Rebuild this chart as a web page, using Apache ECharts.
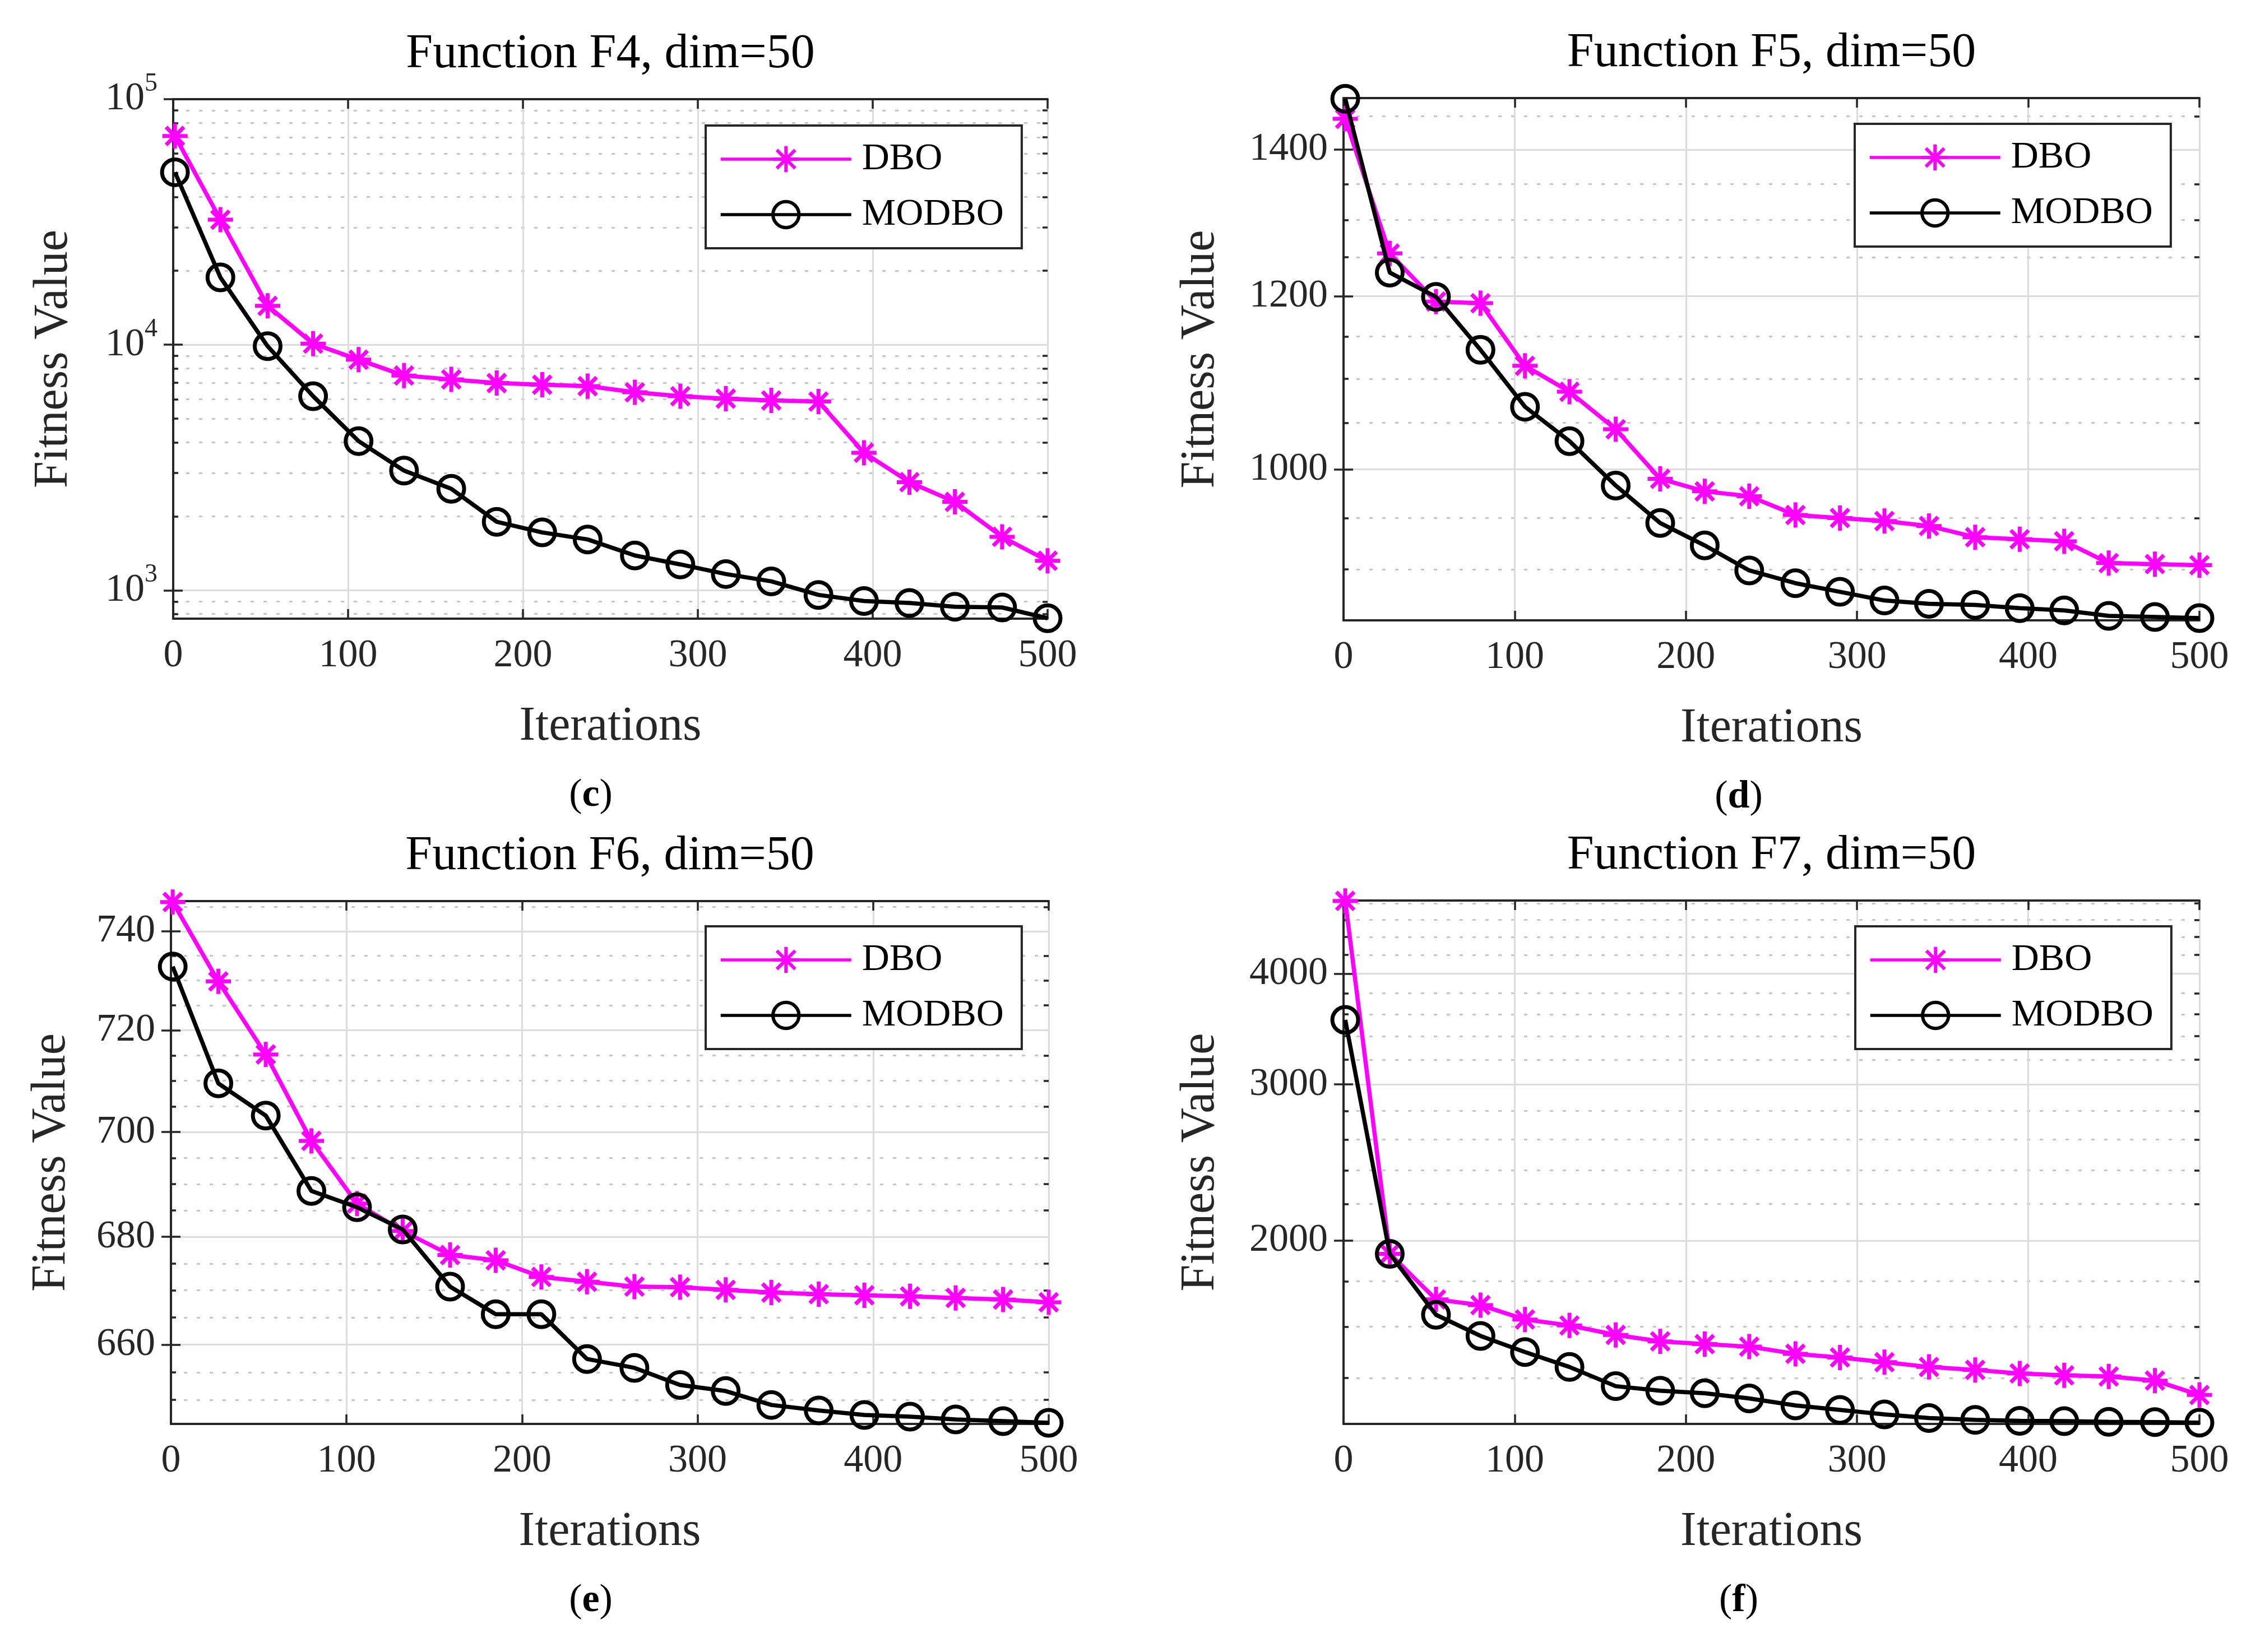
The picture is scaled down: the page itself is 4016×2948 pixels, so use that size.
<!DOCTYPE html>
<html>
<head>
<meta charset="utf-8">
<script src="https://cdn.jsdelivr.net/npm/echarts@6/dist/echarts.min.js"></script>
<style>
html,body{margin:0;padding:0;background:#ffffff;}
#chart{width:4016px;height:2948px;}
</style>
</head>
<body>
<div id="chart"></div>
<script>
// ---------------- data ----------------
const iterations = [1, 27, 54, 80, 106, 132, 159, 185, 211, 237, 264, 290, 316, 342, 369, 395, 421, 447, 474, 500];
const xTickValues = [0, 100, 200, 300, 400, 500];
const seriesNames = ['DBO', 'MODBO'];

const titles = ['Function F4, dim=50', 'Function F5, dim=50', 'Function F6, dim=50', 'Function F7, dim=50'];
const captionLetters = ['c', 'd', 'e', 'f'];

// Function F4
const f4DBO = [70800, 32300, 14400, 10100, 8690, 7490, 7220, 6980, 6870, 6780, 6400, 6170, 6030, 5930, 5870, 3630, 2755, 2290, 1650, 1318];
const f4MODBO = [50400, 18800, 9860, 6170, 4050, 3070, 2590, 1900, 1720, 1610, 1385, 1274, 1164, 1087, 957, 904, 887, 857, 851, 769];
const f4Range = [766, 100000];
const f4MajorTicks = [1000, 10000, 100000];
const f4MinorTicks = [800, 900, 2000, 3000, 4000, 5000, 6000, 7000, 8000, 9000, 20000, 30000, 40000, 50000, 60000, 70000, 80000, 90000];

// Function F5
const f5DBO = [1446, 1255, 1193, 1191, 1115, 1085, 1043, 990, 977, 972, 953, 950, 947, 942, 931, 929, 927, 906, 905, 904];
const f5MODBO = [1477, 1230, 1199, 1134, 1068, 1030, 983, 945, 923, 899, 887, 879, 871, 868, 867, 864, 862, 857, 856, 855];
const f5Range = [853, 1478];
const f5MajorTicks = [1000, 1200, 1400];
const f5MinorTicks = [900, 950, 1050, 1100, 1150, 1250, 1300, 1350, 1450];

// Function F6
const f6DBO = [746.0, 729.8, 715.2, 698.3, 686.3, 681.1, 676.6, 675.6, 672.5, 671.6, 670.7, 670.6, 670.1, 669.6, 669.3, 669.1, 668.9, 668.6, 668.3, 667.8];
const f6MODBO = [732.8, 709.5, 703.2, 688.7, 685.6, 681.4, 670.7, 665.6, 665.6, 657.4, 655.8, 652.7, 651.6, 649.1, 648.1, 647.3, 647.0, 646.5, 646.2, 645.9];
const f6Range = [645.7, 746.2];
const f6MajorTicks = [660, 680, 700, 720, 740];
const f6MinorTicks = [650, 655, 665, 670, 675, 685, 690, 695, 705, 710, 715, 725, 730, 735, 745];

// Function F7
const f7DBO = [4830, 1933, 1717, 1692, 1630, 1605, 1566, 1540, 1529, 1519, 1491, 1477, 1459, 1441, 1430, 1417, 1410, 1406, 1391, 1340];
const f7MODBO = [3547, 1933, 1650, 1562, 1498, 1441, 1371, 1355, 1346, 1328, 1304, 1289, 1274, 1262, 1256, 1253, 1252, 1250, 1249, 1247];
const f7Range = [1243, 4835];
const f7MajorTicks = [2000, 3000, 4000];
const f7MinorTicks = [1400, 1600, 1800, 2200, 2400, 2600, 2800, 3200, 3400, 3600, 3800, 4200, 4400, 4600, 4800];

// ---------------- layout / style ----------------
const FONT = 'Liberation Serif';
const AX = '#262626';
const MAGENTA = '#ff00ff';
const ASTERISK = 'path://M22.5,0L22.5,45M0,22.5L45,22.5M6.6,6.6L38.4,38.4M6.6,38.4L38.4,6.6';

const panels = [
  {title: titles[0], cap: captionLetters[0], dbo: f4DBO, modbo: f4MODBO, range: f4Range, major: f4MajorTicks, minor: f4MinorTicks, pow: true,
   grid: {left: 309, top: 177, width: 1560, height: 927}, legend: {left: 1259, top: 224}, yNameX: 96, capX: 1054},
  {title: titles[1], cap: captionLetters[1], dbo: f5DBO, modbo: f5MODBO, range: f5Range, major: f5MajorTicks, minor: f5MinorTicks, pow: false,
   grid: {left: 2397, top: 175, width: 1527, height: 932}, legend: {left: 3309, top: 221}, yNameX: 2142, capX: 3102},
  {title: titles[2], cap: captionLetters[2], dbo: f6DBO, modbo: f6MODBO, range: f6Range, major: f6MajorTicks, minor: f6MinorTicks, pow: false,
   grid: {left: 305, top: 1608, width: 1566, height: 933}, legend: {left: 1259, top: 1653}, yNameX: 92, capX: 1054},
  {title: titles[3], cap: captionLetters[3], dbo: f7DBO, modbo: f7MODBO, range: f7Range, major: f7MajorTicks, minor: f7MinorTicks, pow: false,
   grid: {left: 2397, top: 1607, width: 1527, height: 934}, legend: {left: 3310, top: 1653}, yNameX: 2142, capX: 3102}
];

const option = {
  animation: false,
  backgroundColor: '#ffffff',
  grid: [], xAxis: [], yAxis: [], series: [], legend: [], graphic: []
};

const axisLineStyle = {color: AX, width: 4};
const tickLineStyle = {color: AX, width: 3.5};
const majorGrid = {show: true, lineStyle: {color: '#dcdcdc', width: 3, type: 'solid'}};
const minorGrid = {show: true, lineStyle: {color: '#c6c6c6', width: 3, type: [6, 17]}};

panels.forEach((p, i) => {
  const g = p.grid;
  option.grid.push({left: g.left, top: g.top, width: g.width, height: g.height, containLabel: false});

  const xBase = option.xAxis.length;
  const xCommon = {gridIndex: i, type: 'value', min: xTickValues[0], max: xTickValues[xTickValues.length - 1], interval: xTickValues[1] - xTickValues[0]};
  option.xAxis.push(Object.assign({}, xCommon, {
    position: 'bottom',
    axisLine: {show: true, onZero: false, lineStyle: axisLineStyle},
    axisTick: {show: true, inside: true, length: 17, lineStyle: tickLineStyle},
    axisLabel: {show: true, margin: 32, fontFamily: FONT, fontSize: 70, color: AX, showMinLabel: true, showMaxLabel: true},
    splitLine: majorGrid
  }));
  option.xAxis.push(Object.assign({}, xCommon, {
    position: 'top',
    axisLine: {show: true, onZero: false, lineStyle: axisLineStyle},
    axisTick: {show: true, inside: true, length: 17, lineStyle: tickLineStyle},
    axisLabel: {show: false},
    splitLine: {show: false}
  }));

  const yBase = option.yAxis.length;
  const yCommon = {gridIndex: i, type: 'log', logBase: 10, min: p.range[0], max: p.range[1]};
  const labelCfg = {
    show: true, customValues: p.major, margin: 28, fontFamily: FONT, fontSize: 70, color: AX
  };
  if (p.pow) {
    labelCfg.formatter = v => '10{s|' + Math.round(Math.log10(v)) + '}';
    labelCfg.lineHeight = 100;
    labelCfg.rich = {s: {fontSize: 46, fontFamily: FONT, color: AX, verticalAlign: 'top', lineHeight: 100}};
  } else {
    labelCfg.formatter = v => String(Math.round(v));
  }
  option.yAxis.push(Object.assign({}, yCommon, {
    position: 'left',
    axisLine: {show: true, lineStyle: axisLineStyle},
    axisTick: {show: true, inside: true, length: 17, customValues: p.major, lineStyle: tickLineStyle},
    axisLabel: labelCfg,
    splitLine: majorGrid
  }));
  option.yAxis.push(Object.assign({}, yCommon, {
    position: 'right',
    axisLine: {show: true, lineStyle: axisLineStyle},
    axisTick: {show: true, inside: true, length: 17, customValues: p.major, lineStyle: tickLineStyle},
    axisLabel: {show: false},
    splitLine: {show: false}
  }));
  option.yAxis.push(Object.assign({}, yCommon, {
    position: 'left',
    axisLine: {show: false},
    axisTick: {show: true, inside: true, length: 9, customValues: p.minor, lineStyle: tickLineStyle},
    axisLabel: {show: false},
    splitLine: minorGrid
  }));
  option.yAxis.push(Object.assign({}, yCommon, {
    position: 'right',
    axisLine: {show: false},
    axisTick: {show: true, inside: true, length: 9, customValues: p.minor, lineStyle: tickLineStyle},
    axisLabel: {show: false},
    splitLine: {show: false}
  }));

  option.series.push({
    type: 'line', name: seriesNames[0], xAxisIndex: xBase, yAxisIndex: yBase,
    data: iterations.map((x, k) => [x, p.dbo[k]]),
    symbol: ASTERISK, symbolSize: 45, clip: false, z: 3,
    lineStyle: {color: MAGENTA, width: 7.5},
    itemStyle: {color: MAGENTA, borderColor: MAGENTA, borderWidth: 7},
    emphasis: {disabled: true}
  });
  option.series.push({
    type: 'line', name: seriesNames[1], xAxisIndex: xBase, yAxisIndex: yBase,
    data: iterations.map((x, k) => [x, p.modbo[k]]),
    symbol: 'circle', symbolSize: 46, clip: false, z: 4,
    lineStyle: {color: '#000000', width: 7.5},
    itemStyle: {color: 'rgba(0,0,0,0)', borderColor: '#000000', borderWidth: 7},
    emphasis: {disabled: true}
  });

  option.legend.push({
    left: p.legend.left, top: p.legend.top, orient: 'vertical', align: 'left',
    data: seriesNames, selectedMode: false,
    itemWidth: 233, itemHeight: 58, itemGap: 29,
    padding: [25, 32, 25, 24],
    backgroundColor: '#ffffff', borderColor: AX, borderWidth: 4,
    lineStyle: {width: 5.5},
    itemStyle: {borderWidth: 6},
    textStyle: {fontFamily: FONT, fontSize: 68, color: '#000000', lineHeight: 70, padding: [0, 0, 0, 14]}
  });

  const cx = g.left + g.width / 2;
  const bottom = g.top + g.height;
  option.graphic.push({
    type: 'text', x: cx, y: g.top - 80,
    style: {text: p.title, font: '86px "' + FONT + '"', fill: '#000000', align: 'center', verticalAlign: 'middle', textAlign: 'center', textVerticalAlign: 'middle'}
  });
  option.graphic.push({
    type: 'text', x: cx, y: bottom + 193,
    style: {text: 'Iterations', font: '86px "' + FONT + '"', fill: AX, align: 'center', verticalAlign: 'middle', textAlign: 'center', textVerticalAlign: 'middle'}
  });
  option.graphic.push({
    type: 'text', x: p.yNameX, y: g.top + g.height / 2, rotation: Math.PI / 2,
    style: {text: 'Fitness Value', font: '86px "' + FONT + '"', fill: AX, align: 'center', verticalAlign: 'middle', textAlign: 'center', textVerticalAlign: 'middle'}
  });
  option.graphic.push({
    type: 'text', x: p.capX, y: bottom + 316,
    style: {
      text: '({b|' + p.cap + '})', font: '70px "' + FONT + '"', fill: '#000000', align: 'center', verticalAlign: 'middle', textAlign: 'center', textVerticalAlign: 'middle',
      rich: {b: {fontWeight: 'bold', fontSize: 70, fontFamily: FONT, fill: '#000000'}}
    }
  });
});

const chart = echarts.init(document.getElementById('chart'), null, {renderer: 'canvas'});
chart.setOption(option);
</script>
</body>
</html>
